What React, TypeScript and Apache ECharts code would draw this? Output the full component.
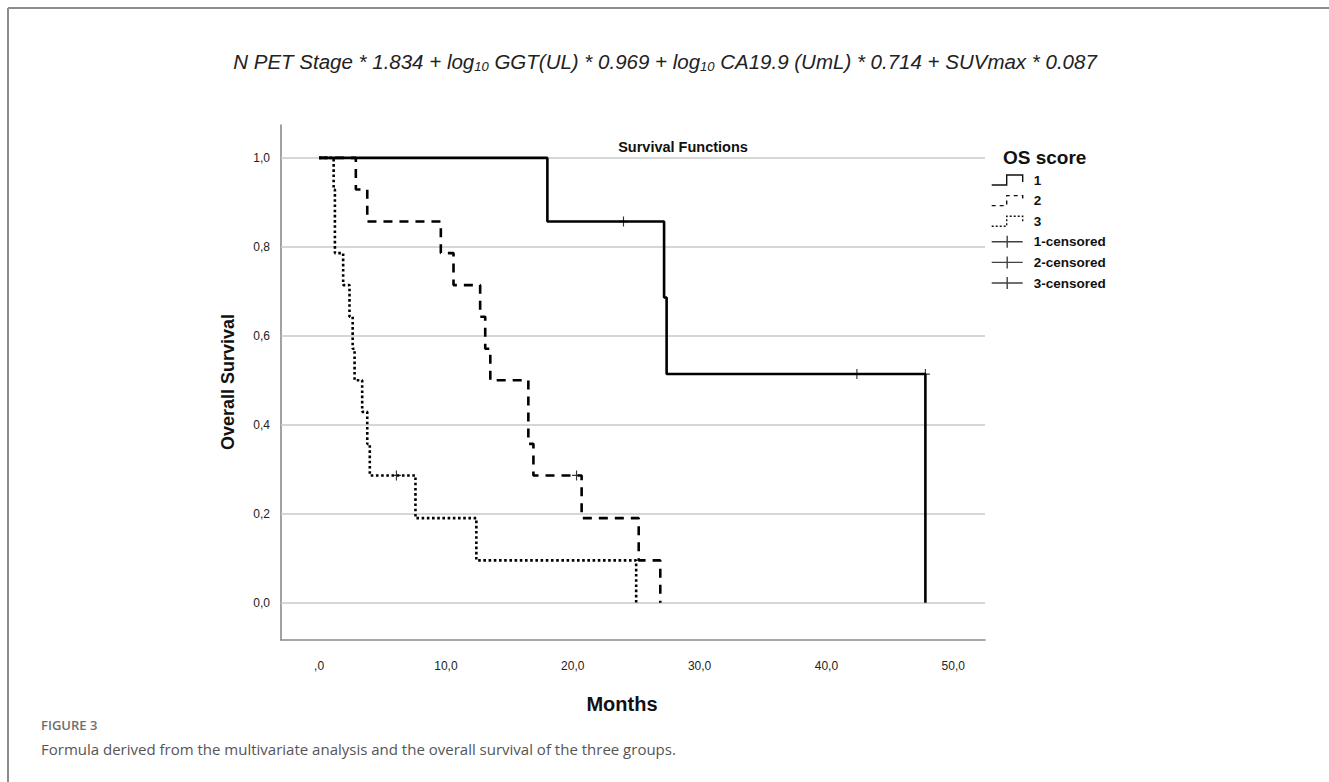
import React, { useEffect, useRef } from "react";
import * as echarts from "echarts";

// ---- Data (Kaplan–Meier step points: [months, survival]) ----
const group1Curve: [number, number][] = [
  [0, 1], [18.0, 0.857], [27.2, 0.686], [27.4, 0.514], [47.8, 0],
];
const group2Curve: [number, number][] = [
  [0, 1], [2.9, 0.929], [3.8, 0.857], [9.6, 0.786], [10.6, 0.714], [12.7, 0.643],
  [13.1, 0.571], [13.5, 0.5], [16.5, 0.357], [16.9, 0.286], [20.7, 0.19],
  [25.2, 0.095], [26.9, 0],
];
const group3Curve: [number, number][] = [
  [0, 1], [1.15, 0.929], [1.25, 0.786], [1.9, 0.714], [2.4, 0.643], [2.65, 0.571],
  [2.8, 0.5], [3.4, 0.429], [3.8, 0.357], [4.0, 0.286], [7.6, 0.19], [12.4, 0.095],
  [25.0, 0],
];
const group1Censored: [number, number][] = [[24.0, 0.857], [42.4, 0.514], [47.8, 0.514]];
const group2Censored: [number, number][] = [[20.3, 0.286]];
const group3Censored: [number, number][] = [[6.1, 0.286]];

const xTickValues = [0, 10, 20, 30, 40, 50];
const yTickValues = [0, 0.2, 0.4, 0.6, 0.8, 1.0];

const fmtX = (v: number) => (v === 0 ? ",0" : v.toFixed(1).replace(".", ","));
const fmtY = (v: number) => v.toFixed(1).replace(".", ",");

const CROSS = "path://M0,5 L10,5 M5,0 L5,10";
const LEG_CROSS = "path://M0,6 L31,6 M15.5,0 L15.5,12";
const LEG_STEP = "path://M0,11 L15,11 L15,1 L31,1 L31,8";

export default function App() {
  const ref = useRef<HTMLDivElement>(null);
  useEffect(() => {
    if (!ref.current) return;
    const chart = echarts.init(ref.current, null, { renderer: "svg" });
    const axisGray = "#8a8a8a";
    const lineW = 2.6;
    const font = "Liberation Sans, Arial, sans-serif";
    const censorStyle = { color: "transparent", borderColor: "#000", borderWidth: 1.2 };
    const legendItem = (name: string, icon: string, type: any) => ({
      name,
      icon,
      itemStyle: { color: "transparent", borderColor: "#111", borderWidth: 1.4, borderType: type },
    });
    const option: any = {
      animation: false,
      backgroundColor: "#fff",
      grid: { left: 281, right: 344, top: 125, height: 515 },
      xAxis: {
        type: "value",
        min: -3.0,
        max: 52.5,
        axisLine: { show: true, onZero: false, lineStyle: { color: axisGray, width: 1.6 } },
        axisTick: { show: false },
        splitLine: { show: false },
        axisLabel: {
          customValues: xTickValues,
          formatter: fmtX,
          margin: 20,
          color: "#222",
          fontSize: 12,
          fontFamily: font,
        },
      },
      yAxis: {
        type: "value",
        min: -0.084,
        max: 1.074,
        axisLine: { show: true, onZero: false, lineStyle: { color: axisGray, width: 1.6 } },
        axisTick: { show: false },
        splitLine: { show: false },
        axisLabel: {
          customValues: yTickValues,
          formatter: fmtY,
          margin: 11,
          color: "#222",
          fontSize: 12,
          fontFamily: font,
        },
      },
      legend: {
        orient: "vertical",
        left: 986,
        top: 168,
        itemWidth: 31,
        itemHeight: 12,
        itemGap: 6.6,
        selectedMode: false,
        textStyle: {
          fontFamily: font,
          fontWeight: "bold",
          fontSize: 13.5,
          color: "#111",
          padding: [0, 0, 0, 6],
        },
        data: [
          legendItem("1", LEG_STEP, "solid"),
          legendItem("2", LEG_STEP, [4, 4]),
          legendItem("3", LEG_STEP, [2, 2]),
          legendItem("1-censored", LEG_CROSS, "solid"),
          legendItem("2-censored", LEG_CROSS, "solid"),
          legendItem("3-censored", LEG_CROSS, "solid"),
        ],
      },
      series: [
        {
          name: "grid",
          type: "line",
          data: [],
          silent: true,
          z: 1,
          markLine: {
            silent: true,
            z: 1,
            symbol: "none",
            label: { show: false },
            lineStyle: { color: "#c9c9c9", width: 1.5, type: "solid" },
            data: yTickValues.map((v) => ({ yAxis: v })),
          },
        },
        {
          name: "1",
          type: "line",
          step: "end",
          data: group1Curve,
          showSymbol: false,
          z: 4,
          lineStyle: { color: "#000", width: lineW, type: "solid" },
          itemStyle: { color: "#000" },
        },
        {
          name: "2",
          type: "line",
          step: "end",
          data: group2Curve,
          showSymbol: false,
          z: 3,
          lineStyle: { color: "#000", width: lineW, type: [9, 7], cap: "butt" },
          itemStyle: { color: "#000" },
        },
        {
          name: "3",
          type: "line",
          step: "end",
          data: group3Curve,
          showSymbol: false,
          z: 3,
          lineStyle: { color: "#000", width: lineW, type: [2.6, 2.6], cap: "butt" },
          itemStyle: { color: "#000" },
        },
        {
          name: "1-censored",
          type: "scatter",
          data: group1Censored,
          symbol: CROSS,
          symbolSize: [9, 10],
          z: 5,
          itemStyle: censorStyle,
        },
        {
          name: "2-censored",
          type: "scatter",
          data: group2Censored,
          symbol: CROSS,
          symbolSize: [9, 10],
          z: 5,
          itemStyle: censorStyle,
        },
        {
          name: "3-censored",
          type: "scatter",
          data: group3Censored,
          symbol: CROSS,
          symbolSize: [9, 10],
          z: 5,
          itemStyle: censorStyle,
        },
      ],
      graphic: [
        // figure frame (top and left rules)
        { type: "line", shape: { x1: 8, y1: 8, x2: 1329, y2: 8 }, style: { stroke: "#8c8c8c", lineWidth: 2 } },
        { type: "line", shape: { x1: 8, y1: 8, x2: 8, y2: 782 }, style: { stroke: "#8c8c8c", lineWidth: 2 } },
        // formula
        {
          type: "text",
          x: 665,
          y: 61,
          style: {
            text:
              "{m|N PET Stage * 1.834 + log}{s|10}{m| GGT(UL) * 0.969 + log}{s|10}{m| CA19.9 (UmL) * 0.714 + SUVmax * 0.087}",
            align: "center",
            verticalAlign: "middle",
            rich: {
              m: {
                fontFamily: font,
                fontStyle: "italic",
                fontSize: 20.5,
                lineHeight: 24,
                fill: "#222",
                verticalAlign: "middle",
              },
              s: {
                fontFamily: font,
                fontStyle: "italic",
                fontSize: 13,
                lineHeight: 13,
                fill: "#222",
                verticalAlign: "bottom",
              },
            },
          },
        },
        // chart title
        {
          type: "text",
          x: 683,
          y: 147,
          style: {
            text: "Survival Functions",
            align: "center",
            verticalAlign: "middle",
            fontFamily: font,
            fontWeight: "bold",
            fontSize: 14.5,
            fill: "#111",
          },
        },
        {
          type: "text",
          x: 1003,
          y: 157,
          style: {
            text: "OS score",
            align: "left",
            verticalAlign: "middle",
            fontFamily: font,
            fontWeight: "bold",
            fontSize: 19,
            fill: "#111",
          },
        },
        {
          type: "text",
          x: 228,
          y: 382,
          rotation: Math.PI / 2,
          style: {
            text: "Overall Survival",
            align: "center",
            verticalAlign: "middle",
            fontFamily: font,
            fontWeight: "bold",
            fontSize: 18,
            fill: "#111",
          },
        },
        {
          type: "text",
          x: 622,
          y: 704,
          style: {
            text: "Months",
            align: "center",
            verticalAlign: "middle",
            fontFamily: font,
            fontWeight: "bold",
            fontSize: 20,
            fill: "#111",
          },
        },
        {
          type: "text",
          x: 41,
          y: 725,
          style: {
            text: "FIGURE 3",
            align: "left",
            verticalAlign: "middle",
            fontFamily: "Open Sans, Noto Sans, sans-serif",
            fontWeight: 600,
            fontSize: 13,
            fill: "#6e6e6e",
          },
        },
        {
          type: "text",
          x: 41,
          y: 749,
          style: {
            text: "Formula derived from the multivariate analysis and the overall survival of the three groups.",
            align: "left",
            verticalAlign: "middle",
            fontFamily: "Open Sans, Noto Sans, sans-serif",
            fontSize: 15,
            fill: "#555",
          },
        },
      ],
    };
    chart.setOption(option);
    return () => chart.dispose();
  }, []);
  return (
    <div
      ref={ref}
      style={{ position: "fixed", left: 0, top: 0, width: 1329, height: 782, background: "#fff" }}
    />
  );
}
